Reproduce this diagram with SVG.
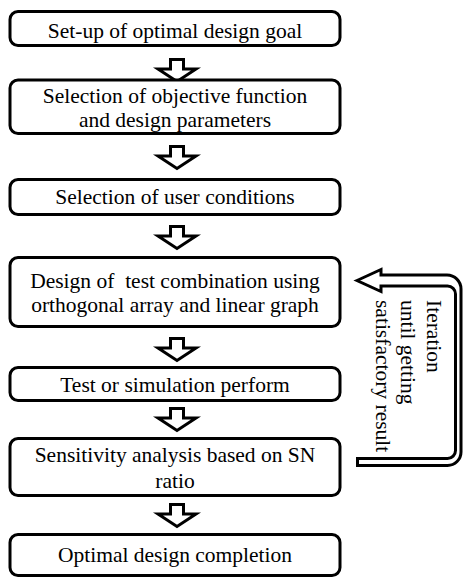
<svg xmlns="http://www.w3.org/2000/svg" width="464" height="579" viewBox="0 0 464 579" font-family="'Liberation Serif', 'Times New Roman', serif" font-size="21.5">
<style>
.box{fill:#fff;stroke:#000;stroke-width:3}
.arr{fill:#fff;stroke:#000;stroke-width:3;stroke-linejoin:miter}
text{font-family:"Liberation Serif","Times New Roman",serif;font-size:21.5px;fill:#000}
.ct{text-anchor:middle}
</style>
<defs>
<path id="da" d="M-6.5,0 L6.5,0 L6.5,9.5 L19,9.5 L0,22 L-19,9.5 L-6.5,9.5 Z"/>
</defs>
<g id="connectors">
<use href="#da" class="arr" x="177" y="59.5"/>
<use href="#da" class="arr" x="177" y="146.5"/>
<use href="#da" class="arr" x="177" y="226.5"/>
<use href="#da" class="arr" x="177" y="338.5"/>
<use href="#da" class="arr" x="177" y="408.5"/>
<use href="#da" class="arr" x="177" y="504.5"/>
<path class="arr" d="M357,280.5 L381,269.5 L381,275 L447,275 A14 14 0 0 1 461,289 L461,452 A13.5 13.5 0 0 1 447.5,465.5 L357.5,465.5 L357.5,458.5 L447.5,458.5 A8 8 0 0 0 455.5,450.5 L455.5,294 A8 8 0 0 0 447.5,286 L381,286 L381,291.5 Z"/>
<text font-family="'Liberation Serif', serif" transform="translate(427,300) rotate(90)">Iteration</text>
<text font-family="'Liberation Serif', serif" transform="translate(401,300) rotate(90)">until getting</text>
<text font-family="'Liberation Serif', serif" transform="translate(375.5,300) rotate(90)">satisfactory result</text>
</g>
<g id="n1">
<rect class="box" x="10" y="11.5" width="330" height="34" rx="8"/>
<text class="ct" font-family="'Liberation Serif', serif" x="175" y="37.5">Set-up of optimal design goal</text>
</g>
<g id="n2">
<rect class="box" x="10" y="80" width="330" height="53.5" rx="8"/>
<text class="ct" font-family="'Liberation Serif', serif" x="175" y="103.3">Selection of objective function</text>
<text class="ct" font-family="'Liberation Serif', serif" x="175" y="126.7">and design parameters</text>
</g>
<g id="n3">
<rect class="box" x="10" y="179.5" width="330" height="35" rx="8"/>
<text class="ct" font-family="'Liberation Serif', serif" x="175" y="204">Selection of user conditions</text>
</g>
<g id="n4">
<rect class="box" x="10" y="257.5" width="330" height="69" rx="8"/>
<text class="ct" font-family="'Liberation Serif', serif" x="175" y="288.3" xml:space="preserve">Design of  test combination using</text>
<text class="ct" font-family="'Liberation Serif', serif" x="175" y="311.7">orthogonal array and linear graph</text>
</g>
<g id="n5">
<rect class="box" x="10" y="367.5" width="330" height="33" rx="8"/>
<text class="ct" font-family="'Liberation Serif', serif" x="175" y="392">Test or simulation perform</text>
</g>
<g id="n6">
<rect class="box" x="10" y="438.5" width="330" height="57" rx="8"/>
<text class="ct" font-family="'Liberation Serif', serif" x="175" y="461.7">Sensitivity analysis based on SN</text>
<text class="ct" font-family="'Liberation Serif', serif" x="175" y="487.7">ratio</text>
</g>
<g id="n7">
<rect class="box" x="10" y="534.5" width="330" height="41" rx="8"/>
<text class="ct" font-family="'Liberation Serif', serif" x="175" y="561.7">Optimal design completion</text>
</g>
</svg>
